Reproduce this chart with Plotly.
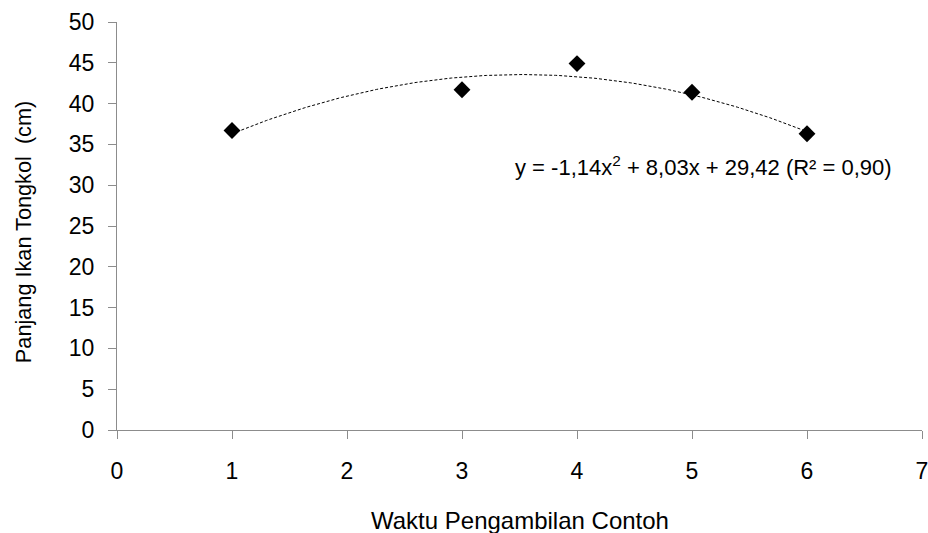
import numpy as np
import plotly.graph_objects as go

# Sampling time (x) and mean fish length in cm (y)
sample_time = [1, 3, 4, 5, 6]
fish_length = [36.7, 41.7, 44.9, 41.4, 36.3]

# Quadratic trend coefficients (a, b, c) and coefficient of determination
trend_coef = [-1.14, 8.03, 29.42]
r_squared = 0.90

x_ticks = [0, 1, 2, 3, 4, 5, 6, 7]
y_ticks = [0, 5, 10, 15, 20, 25, 30, 35, 40, 45, 50]

x_title = "Waktu Pengambilan Contoh"
y_title = "Panjang Ikan Tongkol\u00a0 (cm)"

FONT = "Liberation Sans, Arial, sans-serif"
AXIS_GREY = "#8c8c8c"

# Trend curve evaluated from the stated coefficients
xs = np.linspace(min(sample_time), max(sample_time), 200)
ys = np.polyval(trend_coef, xs)

fig = go.Figure()
fig.add_trace(go.Scatter(
    x=xs, y=ys, mode="lines",
    line=dict(color="black", width=1, dash="3px,2px"),
    hoverinfo="skip", showlegend=False,
))
fig.add_trace(go.Scatter(
    x=sample_time, y=fish_length, mode="markers",
    marker=dict(symbol="diamond", size=13, color="black"),
    showlegend=False,
))

def fmt(v):
    return f"{abs(v):.2f}".replace(".", ",")

a, b, c = trend_coef
eq_text = (f"y = {'-' if a < 0 else ''}{fmt(a)}x<sup>2</sup> + {fmt(b)}x + {fmt(c)} "
           f"(R² = {fmt(r_squared)})")
fig.add_annotation(
    x=5.1, y=32.4, xref="x", yref="y", text=eq_text, showarrow=False,
    font=dict(family=FONT, size=22, color="black"), xanchor="center", yanchor="middle",
)

# Axis titles placed as paper-anchored annotations
fig.add_annotation(
    x=0.5, y=-0.222, xref="paper", yref="paper", text=x_title, showarrow=False,
    font=dict(family=FONT, size=24, color="black"), xanchor="center", yanchor="middle",
)
fig.add_annotation(
    x=-0.116, y=0.484, xref="paper", yref="paper", text=y_title, showarrow=False,
    textangle=-90, font=dict(family=FONT, size=21.7, color="black"),
    xanchor="center", yanchor="middle",
)

axis_common = dict(
    showgrid=False, zeroline=False, showline=True, linecolor=AXIS_GREY, linewidth=1,
    ticks="outside", ticklen=8, tickcolor=AXIS_GREY, tickwidth=1,
    tickfont=dict(family=FONT, size=23, color="black"),
    ticklabeloverflow="allow",
)

fig.update_layout(
    width=928, height=533,
    margin=dict(l=117, r=0, t=22, b=103),
    paper_bgcolor="white", plot_bgcolor="white",
    xaxis=dict(range=[0, 7], tickvals=x_ticks, ticklabelstandoff=12, **axis_common),
    yaxis=dict(range=[0, 50], tickvals=y_ticks, ticklabelstandoff=9, **axis_common),
)

fig.write_html("out.html")
